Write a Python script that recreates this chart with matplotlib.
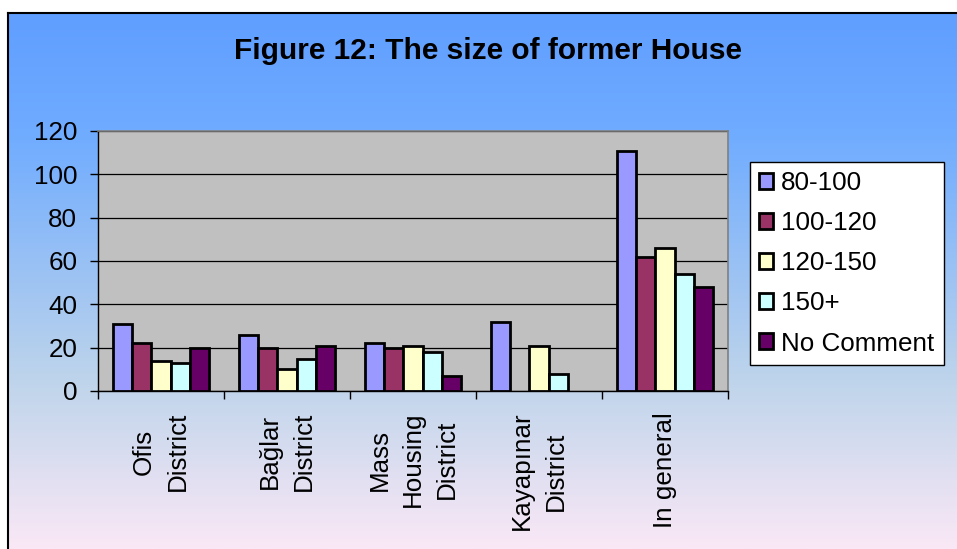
import matplotlib.pyplot as plt
import numpy as np
from matplotlib.colors import LinearSegmentedColormap

plt.rcParams['font.family'] = ['Liberation Sans', 'DejaVu Sans']

# Data
categories = ['Ofis\nDistrict', 'Bağlar\nDistrict', 'Mass\nHousing\nDistrict',
              'Kayapınar\nDistrict', 'In general']
series = ['80-100', '100-120', '120-150', '150+', 'No Comment']
v_80_100 = [31, 26, 22, 32, 111]
v_100_120 = [22, 20, 20, 0, 62]
v_120_150 = [14, 10, 21, 21, 66]
v_150_plus = [13, 15, 18, 8, 54]
v_no_comment = [20, 21, 7, 0, 48]
yticks = [0, 20, 40, 60, 80, 100, 120]

values = [v_80_100, v_100_120, v_120_150, v_150_plus, v_no_comment]
colors = ['#9999FF', '#993366', '#FFFFCC', '#CCFFFF', '#660066']
fs = 18.7

W, H = 957, 549
fig = plt.figure(figsize=(W / 100, H / 100), dpi=100)
fig.patch.set_facecolor('white')

# Chart area with blue -> pink gradient
bg = fig.add_axes([8 / W, 0, 1 - 8 / W, (H - 13) / H])
cmap = LinearSegmentedColormap.from_list('bg', [
    (0.0, (96 / 255, 158 / 255, 1.0)),
    (0.23, (112 / 255, 172 / 255, 1.0)),
    (0.685, (190 / 255, 212 / 255, 235 / 255)),
    (1.0, (250 / 255, 232 / 255, 246 / 255)),
])
grad = np.linspace(0, 1, 256).reshape(-1, 1)
bg.imshow(grad, aspect='auto', cmap=cmap, extent=[0, 1, 0, 1], origin='upper')
bg.set_xlim(0, 1)
bg.set_ylim(0, 1)
bg.set_xticks([])
bg.set_yticks([])
for side in ['right', 'bottom']:
    bg.spines[side].set_visible(False)
for side in ['left', 'top']:
    bg.spines[side].set_color('black')
    bg.spines[side].set_linewidth(1.5)

fig.text(488 / W, 1 - 51 / H, 'Figure 12: The size of former House',
         ha='center', va='center', fontsize=21.5, fontweight='bold')

# Plot area
ax = fig.add_axes([98 / W, 1 - 391 / H, (728 - 98) / W, (391 - 131) / H])
ax.set_facecolor('#C0C0C0')

n = len(series)
x = np.arange(len(categories))
w = 1 / (n + 1.5)
handles = []
for i, (name, vals, c) in enumerate(zip(series, values, colors)):
    # empty categories get no bar at all
    h = np.where(np.array(vals) == 0, np.nan, vals)
    b = ax.bar(x + (i - (n - 1) / 2) * w, h, width=w, color=c,
               edgecolor='black', linewidth=2.0, label=name, zorder=3)
    handles.append(b)

ax.set_ylim(0, 120)
ax.set_xlim(-0.5, len(categories) - 0.5)
ax.set_yticks(yticks)
ax.yaxis.grid(True, color='black', linewidth=0.9, zorder=1)
ax.set_axisbelow(True)

ax.set_xticks(np.arange(len(categories) + 1) - 0.5)
ax.set_xticklabels([])
ax.set_xticks(x, minor=True)
ax.set_xticklabels(categories, minor=True, rotation=90, ha='center', va='top',
                   multialignment='center', linespacing=1.5)
ax.tick_params(axis='x', which='minor', length=0, pad=15, labelsize=fs)
ax.tick_params(axis='x', which='major', length=6, width=1, color='black', direction='out')
ax.tick_params(axis='y', length=6, width=1, direction='out', pad=9, labelsize=fs)

for side in ['top', 'right']:
    ax.spines[side].set_color('#808080')
    ax.spines[side].set_linewidth(1.2)
for side in ['left', 'bottom']:
    ax.spines[side].set_color('black')
    ax.spines[side].set_linewidth(1.0)

leg = fig.legend(handles=handles, loc='upper left',
                 bbox_to_anchor=(750 / W, 1 - 162 / H), fontsize=fs,
                 frameon=True, fancybox=False, framealpha=1, edgecolor='black',
                 handlelength=0.55, handleheight=0.55, handletextpad=0.3,
                 labelspacing=0.62, borderpad=0.35, borderaxespad=0)
leg.get_frame().set_linewidth(1.0)

fig.savefig('out.png', dpi=100)
